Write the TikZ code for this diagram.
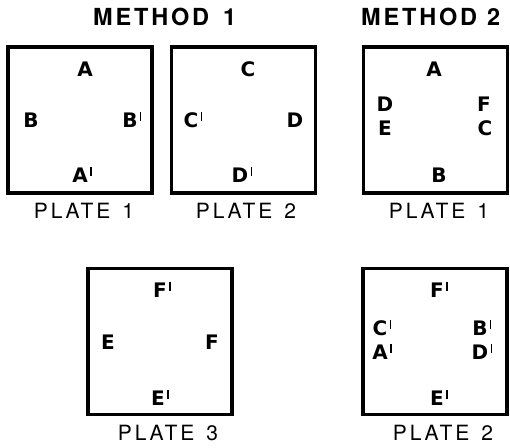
\documentclass[tikz,border=0pt]{standalone}
\usepackage{fontspec}
\setmainfont{TeX Gyre Heros}
\newfontfamily\labfont{DejaVu Sans}
\newfontfamily\titlefont[LetterSpace=12]{TeX Gyre Heros}
\newfontfamily\platefont[LetterSpace=14]{TeX Gyre Heros}
\newcommand\pr{\rlap{\hspace{2.5pt}\smash{\raisebox{0.33em}{\rule{1.3pt}{0.42em}}}}}
\begin{document}
\begin{tikzpicture}[x=1pt,y=-1pt,
  plate/.style={draw, line width=3.8pt, rectangle, minimum width=144pt, minimum height=146pt, inner sep=0pt},
  lab/.style={inner sep=0pt, font=\fontsize{20}{20}\selectfont\labfont\bfseries},
  ttl/.style={inner sep=0pt, anchor=west, font=\fontsize{23.5}{23.5}\selectfont\titlefont\bfseries},
  platecap/.style={inner sep=0pt, font=\fontsize{21}{21}\selectfont\platefont}]
\useasboundingbox (0,0) rectangle (510,447);
% titles
\node[ttl] (t1) at (93,17) {METHOD\hspace{14pt}1};
\node[ttl] (t2) at (361,17) {METHOD\hspace{10pt}2};
% boxes
\node[plate] (b1) at (80,120) {};
\node[plate] (b2) at (243.5,120) {};
\node[plate] (b3) at (435.5,120) {};
\node[plate] (b4) at (160,341.5) {};
\node[plate] (b5) at (435,341.5) {};
% method 1 plate 1
\node[lab] (a1) at (85,69) {A};
\node[lab] (a2) at (31,120) {B};
\node[lab] (a3) at (130,120) {B\pr};
\node[lab] (a4) at (80,175) {A\pr};
\node[platecap] (c1) at (84,211) {PLATE\hspace{12pt}1};
% method 1 plate 2
\node[lab] (d1) at (248,69) {C};
\node[lab] (d2) at (191,120) {C\pr};
\node[lab] (d3) at (295,120) {D};
\node[lab] (d4) at (240,175) {D\pr};
\node[platecap] (c2) at (246,211) {PLATE\hspace{12pt}2};
% method 2 plate 1
\node[lab] (e1) at (434,69) {A};
\node[lab] (e2) at (385,104) {D};
\node[lab] (e3) at (385,128) {E};
\node[lab] (e4) at (484,104) {F};
\node[lab] (e5) at (485,128) {C};
\node[lab] (e6) at (439,175) {B};
\node[platecap] (c3) at (439,211) {PLATE\hspace{12pt}1};
% method 1 plate 3
\node[lab] (f1) at (160,290) {F\pr};
\node[lab] (f2) at (108,342) {E};
\node[lab] (f3) at (212,342) {F};
\node[lab] (f4) at (158,398) {E\pr};
\node[platecap] (c4) at (168,433) {PLATE\hspace{12pt}3};
% method 2 plate 2
\node[lab] (g1) at (437,290) {F\pr};
\node[lab] (g2) at (380,328) {C\pr};
\node[lab] (g3) at (380,352) {A\pr};
\node[lab] (g4) at (480,328) {B\pr};
\node[lab] (g5) at (480,352) {D\pr};
\node[lab] (g6) at (437,398) {E\pr};
\node[platecap] (c5) at (443,433) {PLATE\hspace{12pt}2};
\end{tikzpicture}
\end{document}
